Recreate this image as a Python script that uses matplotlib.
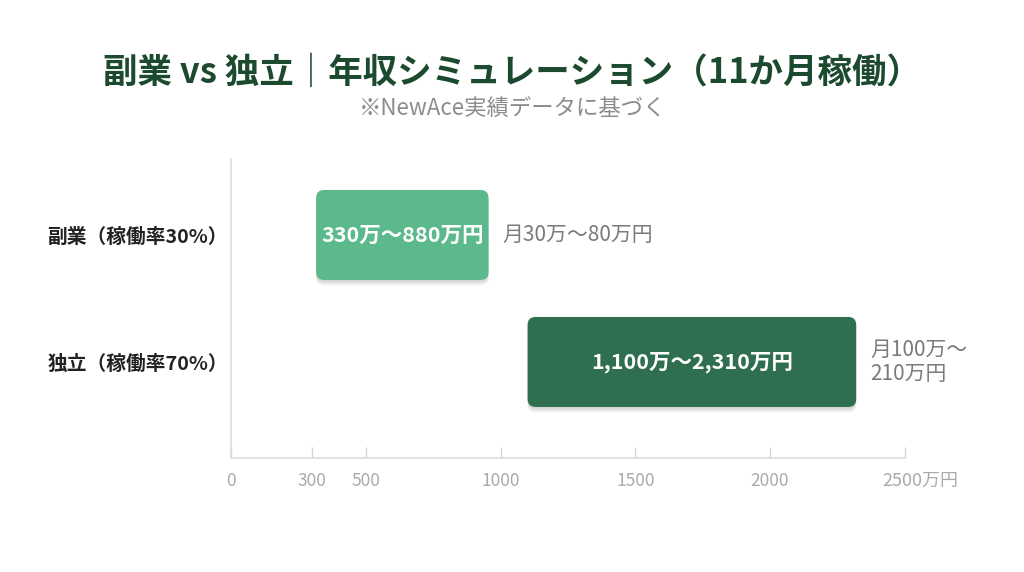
import matplotlib
matplotlib.use('Agg')
import matplotlib.pyplot as plt
from matplotlib.patches import FancyBboxPatch
import matplotlib.patheffects as pe

plt.rcParams['font.family'] = ['Noto Sans CJK JP', 'DejaVu Sans']

# ---- data ----
categories = ['副業（稼働率30%）', '独立（稼働率70%）']
bar_start = [315, 1100]
bar_end = [955, 2320]
bar_labels = ['330万〜880万円', '1,100万〜2,310万円']
monthly_labels = ['月30万〜80万円', '月100万〜\n210万円']
bar_colors = ['#5cb98b', '#2f6e4f']
tick_values = [0, 300, 500, 1000, 1500, 2000, 2500]
tick_labels = ['0', '300', '500', '1000', '1500', '2000', '']
last_tick_label = '2500万円'
title = '副業 vs 独立｜年収シミュレーション（11か月稼働）'
subtitle = '※NewAce実績データに基づく'

W, H = 1024, 572
fig = plt.figure(figsize=(W / 100, H / 100), dpi=100)
fig.patch.set_facecolor('white')

ax_left_px, ax_right_px, ax_top_px, ax_bot_px = 231.3, 904.7, 159, 457.7
ax = fig.add_axes([ax_left_px / W, 1 - ax_bot_px / H,
                   (ax_right_px - ax_left_px) / W, (ax_bot_px - ax_top_px) / H])
xmin, xmax = 0, 2500
ylo, yhi = 1.754, -0.598
ax.set_xlim(xmin, xmax)
ax.set_ylim(ylo, yhi)

px_per_x = (ax_right_px - ax_left_px) / (xmax - xmin)
px_per_y = (ax_bot_px - ax_top_px) / abs(ylo - yhi)
bar_h = 90 / px_per_y
r_px = 8
r_x = r_px / px_per_x
aspect = (r_px / px_per_y) / r_x

shadow = [pe.SimplePatchShadow(offset=(0, -o), shadow_rgbFace='black', alpha=0.045)
          for o in (1, 2, 3, 4)] + [pe.Normal()]

for i, (s, e) in enumerate(zip(bar_start, bar_end)):
    p = FancyBboxPatch((s, i - bar_h / 2), e - s, bar_h,
                       boxstyle=f'round,pad=0,rounding_size={r_x}',
                       mutation_aspect=aspect,
                       facecolor=bar_colors[i], edgecolor='none', zorder=3)
    p.set_path_effects(shadow)
    ax.add_patch(p)
    ax.text((s + e) / 2, i, bar_labels[i], ha='center', va='center',
            color='white', fontsize=15.5, fontweight='bold', zorder=4)
    ax.annotate(monthly_labels[i], xy=(e, i), xytext=(10, 0),
                textcoords='offset points', ha='left', va='center',
                fontsize=15, color='#7b7b7b', linespacing=1.15)

for side in ('top', 'right'):
    ax.spines[side].set_visible(False)
for side in ('left', 'bottom'):
    ax.spines[side].set_color('#dddddd')
    ax.spines[side].set_linewidth(1.2)

ax.set_xticks(tick_values)
ax.set_xticklabels(tick_labels)
ax.tick_params(axis='x', direction='in', length=8, width=1, color='#d4d4d4',
               labelsize=12.5, labelcolor='#aaaaaa', pad=10.5)
ax.annotate(last_tick_label, xy=(tick_values[-1], 0), xycoords=('data', 'axes fraction'),
            xytext=(-16, -10.5), textcoords='offset points', ha='left', va='top',
            fontsize=13, color='#aaaaaa')

ax.set_yticks([0, 1])
ax.set_yticklabels(categories, fontsize=14.2, fontweight='bold', color='#222222')
ax.tick_params(axis='y', length=0, pad=2.5)

fig.text(0.5, 1 - 72 / H, title, ha='center', va='center', fontsize=24.8,
         fontweight='bold', color='#1c4a2e')
fig.text(513 / W, 1 - 108 / H, subtitle, ha='center', va='center', fontsize=16.1,
         color='#8c8c8c')

fig.savefig('out.png', dpi=100, facecolor='white')
